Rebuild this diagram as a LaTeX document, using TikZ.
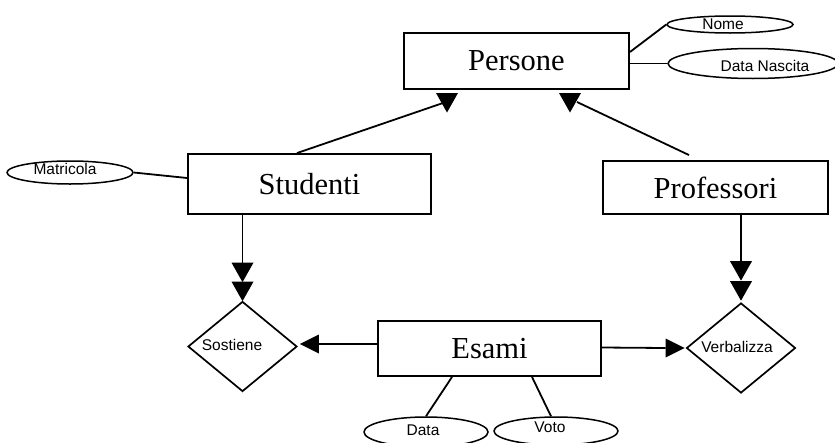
\documentclass[tikz,border=0pt]{standalone}
\usepackage{fontspec}
\setmainfont{Liberation Serif}
\newfontfamily\attrfont{Liberation Sans}
\usetikzlibrary{shapes.geometric}
\begin{document}
\begin{tikzpicture}[x=1pt,y=-1pt,
  entity/.style={draw,line width=1.9pt,rectangle,inner sep=0pt,font=\fontsize{30.5}{30.5}\selectfont},
  relation/.style={draw,line width=1.7pt,diamond,inner sep=0pt,minimum width=109pt,minimum height=90pt},
  attr/.style={draw,line width=1.5pt,ellipse,inner sep=0pt},
  attrlabel/.style={font=\attrfont\fontsize{15.5}{15.5}\selectfont,inner sep=0pt},
  link/.style={line width=1.8pt},
  downhead/.pic={\fill (-11,0) -- (11,0) -- (0,19.5) -- cycle;},
  lefthead/.pic={\fill (0,0) -- (19,-9.5) -- (19,9.5) -- cycle;},
  righthead/.pic={\fill (0,0) -- (-19,-9.5) -- (-19,9.5) -- cycle;}
]
\useasboundingbox (0,0) rectangle (835,442);
\clip (0,0) rectangle (835,442);

% entities
\node[entity,minimum width=225pt,minimum height=56pt] (pers) at (516.5,61) {Persone};
\node[entity,minimum width=243pt,minimum height=60pt] (stud) at (309.5,184) {Studenti};
\node[entity,minimum width=225pt,minimum height=53pt] (prof) at (715.5,187.5) {Professori};
\node[entity,minimum width=223pt,minimum height=55pt] (esami) at (489.5,348.5) {Esami};

% relationships
\node[relation] (sost) at (242.5,346.5) {};
\node[attrlabel] at (232,345) {Sostiene};
\node[relation] (verb) at (741,348) {};
\node[attrlabel] at (737,347) {Verbalizza};

% attributes
\node[attr,minimum width=126pt,minimum height=17pt] (nome) at (730,24.5) {};
\node[attrlabel] at (723,24) {Nome};
\node[attr,minimum width=170pt,minimum height=30pt] (dnasc) at (753,63.5) {};
\node[attrlabel] at (765,66) {Data Nascita};
\node[attr,minimum width=126pt,minimum height=23pt] (matr) at (70,172.5) {};
\node[attrlabel] at (65,168.5) {Matricola};
\node[attr,minimum width=124pt,minimum height=30pt] (data) at (426,432) {};
\node[attrlabel] at (423,430) {Data};
\node[attr,minimum width=124pt,minimum height=28pt] (voto) at (556,431) {};
\node[attrlabel] at (550,427) {Voto};

% attribute links
\draw[link] ([yshift=9pt]pers.east) -- (nome.west);
\draw[link] (pers.east |- dnasc.west) -- (dnasc.west);
\draw[link] (matr.east) -- ([yshift=6pt]stud.west);
\draw[link] ([xshift=-37.5pt]esami.south) -- (data.north);
\draw[link] ([xshift=42.5pt]esami.south) -- ([xshift=-5pt]voto.north);

% generalisation heads below Persone
\coordinate (gs) at (447,93);
\coordinate (gp) at (570,93);
\pic at (gs) {downhead};
\pic at (gp) {downhead};
\draw[link] ([xshift=-12.5pt]stud.north) -- ([xshift=-4pt,yshift=-10pt]gs);
\draw[link] ([xshift=-26.5pt,yshift=5pt]prof.north) -- ([xshift=7pt,yshift=-9pt]gp);

% Studenti -> Sostiene
\draw[link] ([yshift=2pt]stud.south -| sost.north) -- ([yshift=37pt]sost.north);
\pic at ([yshift=38pt]sost.north) {downhead};
\pic at ([yshift=19pt]sost.north) {downhead};

% Professori -> Verbalizza
\draw[link] ([yshift=2pt]prof.south -| verb.north) -- ([yshift=40pt]verb.north);
\pic at ([yshift=41pt]verb.north) {downhead};
\pic at ([yshift=21pt]verb.north) {downhead};

% Esami -> Sostiene, Esami -> Verbalizza
\coordinate (hs) at ([xshift=2pt,yshift=2.5pt]sost.east);
\coordinate (hv) at ([xshift=-1pt]verb.west);
\draw[link] (esami.west |- hs) -- ([xshift=19pt]hs);
\pic at (hs) {lefthead};
\draw[link] ([yshift=1pt]esami.east) -- ([xshift=-19pt]hv);
\pic at (hv) {righthead};
\end{tikzpicture}
\end{document}
